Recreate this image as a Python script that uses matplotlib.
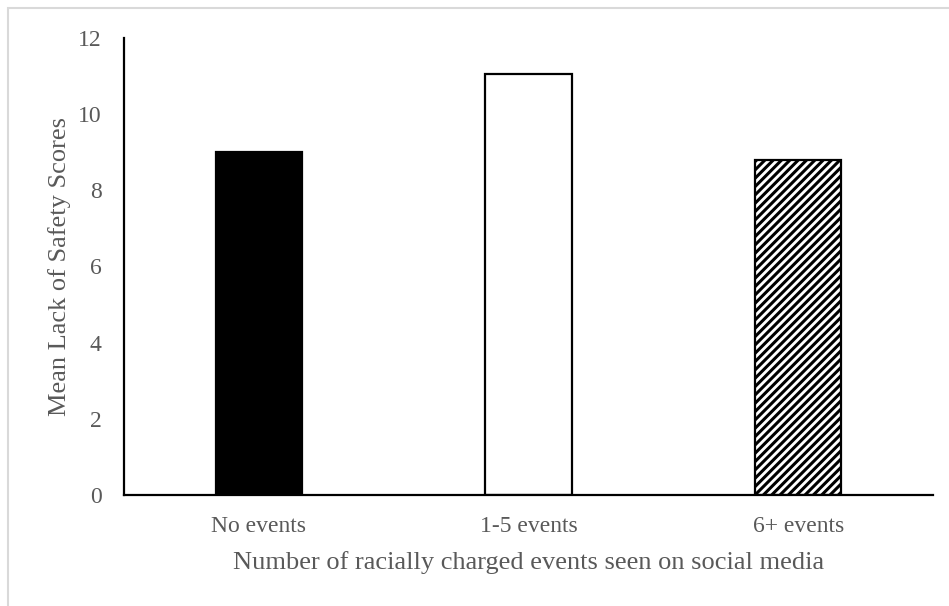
import matplotlib
matplotlib.use("Agg")
import matplotlib.pyplot as plt
from matplotlib.patches import Rectangle

# Data
categories = ["No events", "1-5 events", "6+ events"]
mean_scores = [9.0, 11.05, 8.8]
y_ticks = [0, 2, 4, 6, 8, 10, 12]

# Styles for each bar (solid black, white, hatched)
face_colors = ["black", "white", "white"]
hatches = [None, None, "////"]

plt.rcParams["font.family"] = ["Liberation Serif", "DejaVu Serif"]
plt.rcParams["hatch.linewidth"] = 2.2
plt.rcParams["hatch.color"] = "black"
text_gray = "#595959"

fig = plt.figure(figsize=(9.49, 6.06), dpi=100)
ax = fig.add_axes([0.1307, 0.1832, 0.8524, 0.7541])

x = range(len(categories))
for i, (v, fc, h) in enumerate(zip(mean_scores, face_colors, hatches)):
    ax.bar(i, v, width=0.32, color=fc, edgecolor="black", linewidth=1.6,
           hatch=h, zorder=2)

ax.set_xlim(-0.5, 2.5)
ax.set_ylim(0, 12)
ax.set_yticks(y_ticks)
ax.set_xticks(list(x))
ax.set_xticklabels(categories)

for side in ["top", "right"]:
    ax.spines[side].set_visible(False)
for side in ["left", "bottom"]:
    ax.spines[side].set_linewidth(1.6)
    ax.spines[side].set_color("black")

ax.tick_params(axis="both", length=0, labelsize=17, labelcolor=text_gray)
ax.tick_params(axis="y", pad=16)
ax.tick_params(axis="x", pad=15)

ax.set_ylabel("Mean Lack of Safety Scores", fontsize=19, color=text_gray,
              labelpad=5)
ax.set_xlabel("Number of racially charged events seen on social media",
              fontsize=19, color=text_gray, labelpad=10)

# light gray chart-area border
fig.patches.append(Rectangle((8 / 949, -0.05), 1.1, 1 - 8 / 606 + 0.05,
                             transform=fig.transFigure, fill=False,
                             edgecolor="#d9d9d9", linewidth=1.5))

fig.savefig("out.png", dpi=100)
